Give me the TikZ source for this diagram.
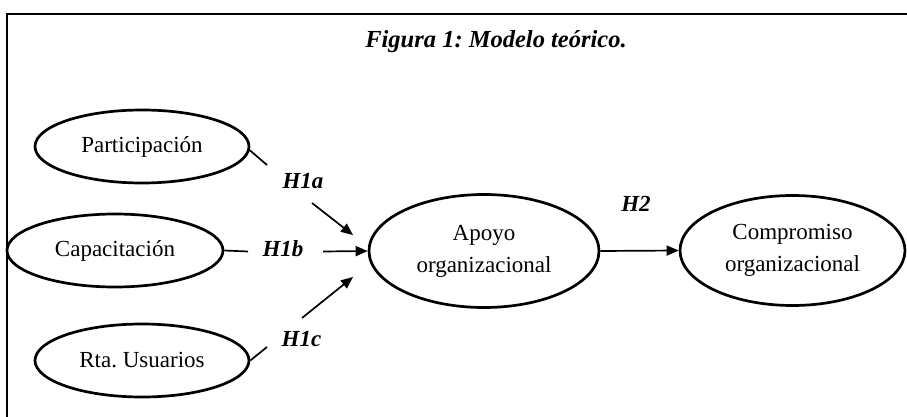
\documentclass[tikz,border=0pt]{standalone}
\usepackage{fontspec}
\setmainfont{Liberation Serif}
\usetikzlibrary{shapes.geometric,arrows.meta}
\begin{document}
\frenchspacing
\begin{tikzpicture}[x=1pt,y=-1pt,
  oval/.style={ellipse,draw,line width=2.7pt,inner sep=0pt,align=center,font=\fontsize{23}{32}\selectfont},
  hyp/.style={font=\fontsize{23}{28}\selectfont\bfseries\itshape,inner sep=0pt,anchor=base},
  arr/.style={line width=1.7pt,-{Triangle[length=12pt,width=10pt]}},
  ln/.style={line width=1.7pt}]
\useasboundingbox (0,0) rectangle (907,417);
\draw[line width=2.3pt] (6.7,417) |- (907,14);
\node[font=\fontsize{24.5}{28}\selectfont\bfseries\itshape,inner sep=0pt,anchor=base] (title) at (496,47.3) {Figura 1: Modelo teórico.};
\node[oval,minimum width=214pt,minimum height=73pt] (P) at (142,146.5) {Participación};
\node[oval,minimum width=216pt,minimum height=73pt] (C) at (115,250.5) {Capacitación};
\node[oval,minimum width=214pt,minimum height=73pt] (U) at (142,360.5) {Rta. Usuarios};
\node[oval,minimum width=230pt,minimum height=113pt] (A) at (484,251) {Apoyo\\organizacional};
\node[oval,minimum width=225pt,minimum height=110pt] (K) at (792.5,250.5) {Compromiso\\organizacional};
\node[hyp] (h1a) at (303,188.3) {H1a};
\node[hyp] (h1b) at (283,256.7) {H1b};
\node[hyp] (h1c) at (301.5,346.7) {H1c};
\node[hyp] (h2) at (636,211.7) {H2};
\coordinate (p1) at (267,165);
\coordinate (p2) at (312,203);
\coordinate (p3) at (353,235);
\draw[ln] (P.-2) -- (p1);
\draw[arr] (p2) -- (p3);
\coordinate (c1) at (248,251.5);
\coordinate (c2) at (323,251.5);
\draw[ln] (C.east) -- (c1);
\draw[arr] (c2) -- (A.west);
\coordinate (u1) at (267,347);
\coordinate (u2) at (302,318);
\coordinate (u3) at (353,277);
\draw[ln] (U.east) -- (u1);
\draw[arr] (u2) -- (u3);
\draw[arr] (A.east) -- (K.west);
\end{tikzpicture}
\end{document}
